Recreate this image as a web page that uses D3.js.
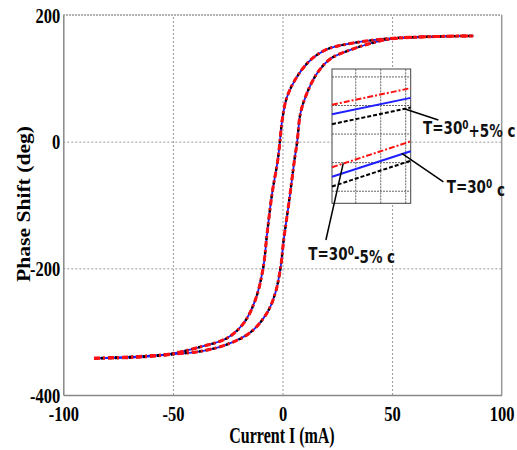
<!DOCTYPE html>
<html>
<head>
<meta charset="utf-8">
<script src="https://cdn.jsdelivr.net/npm/d3@7/dist/d3.min.js"></script>
<style>
  body { margin: 0; background: #fff; }
</style>
</head>
<body>
<div class="chart"></div>
<script>
// Data (mA, deg)
// left branch of the loop (decreasing current)
var leftX = [-86, -70, -60, -51, -37.4, -25.2, -17.6, -12.3, -8.8, -7, -4.7, -2.1, -1.2, -0.1, 2.1, 6.7, 12.8, 20.4, 31, 49, 70, 87];
var leftY = [-342, -340, -338, -335, -324, -310, -286, -249, -199, -144, -81, -28, 0, 35, 71, 103, 129, 146, 155, 163, 166, 167];
// right branch of the loop (increasing current)
var rightX = [-86, -70, -60, -51, -37.4, -25.2, -14.6, -7, -3.2, -0.9, 0.6, 2.9, 5.5, 6.7, 8.2, 11.2, 15.8, 21.9, 31, 40, 49, 70, 87];
var rightY = [-342, -341, -339, -336, -331, -320, -301, -270, -238, -199, -154, -97, -28, 0, 45, 77, 108, 131, 145, 155, 162, 166, 167];

var xTicks = [-100, -50, 0, 50, 100];
var yTicks = [-400, -200, 0, 200];
var xGrid = [-50, 0, 50];
var yGrid = [-200, 0];

// inset (zoomed detail), arbitrary local units
var insetX = [-0.93, 2.22];
var insetUpRed = [3.01, 3.59];
var insetUpBlue = [2.68, 3.25];
var insetUpBlack = [2.33, 2.91];
var insetLowRed = [0.82, 1.73];
var insetLowBlue = [0.49, 1.38];
var insetLowBlack = [0.15, 1.05];
var insetXTicks = [0, 1, 2];
var insetYTicks = [0, 1, 2, 3, 4];

// annotation labels, [x, y] in main chart units
var labels = ["T=30", "T=30", "T=30"];
var labelTails = ["+5% c", " c", "-5% c"];
var labelAt = [[64.1, 12.2], [74.9, -81.2], [11.8, -186.8]];
var pointerFrom = [[55.9, 51.6], [54.4, -18.5], [27.7, -34.2]];
var pointerTo = [[71.1, 34.3], [73.4, -63.3], [19.8, -155.3]];

var svgWidth = 517;
var svgHeight = 450;

var svg = d3.select(".chart")
  .append("svg")
  .attr("width", svgWidth)
  .attr("height", svgHeight);

var x = d3.scaleLinear().domain([-100, 100]).range([63.3, 501.7]);
var y = d3.scaleLinear().domain([-400, 200]).range([395, 15]);

var serif = "'Liberation Serif', 'Times New Roman', serif";
var narrow = "'Liberation Sans Narrow', 'Arial Narrow', 'DejaVu Sans Condensed', sans-serif";

// grid
svg.append("g")
  .attr("transform", "translate(0,395)")
  .call(d3.axisBottom(x).tickValues(xGrid).tickSize(-380).tickFormat(""))
  .call(g => g.select(".domain").remove())
  .selectAll("line")
  .attr("stroke", "#999").attr("stroke-dasharray", "2,2");

svg.append("g")
  .attr("transform", "translate(63.3,0)")
  .call(d3.axisLeft(y).tickValues(yGrid).tickSize(-438.4).tickFormat(""))
  .call(g => g.select(".domain").remove())
  .selectAll("line")
  .attr("stroke", "#999").attr("stroke-dasharray", "2,2");

// frame: top dotted, right solid gray
svg.append("line")
  .attr("x1", x(-100)).attr("x2", x(100)).attr("y1", y(200)).attr("y2", y(200))
  .attr("stroke", "#333").attr("stroke-dasharray", "1.5,1.5");
svg.append("line")
  .attr("x1", x(100)).attr("x2", x(100)).attr("y1", y(200)).attr("y2", y(-400))
  .attr("stroke", "#999").attr("stroke-width", 1.5);

// axes (plain hyphen minus like the original)
var bottomAxis = svg.append("g")
  .attr("transform", "translate(0,395)")
  .call(d3.axisBottom(x).tickValues(xTicks).tickSize(0).tickPadding(7.5).tickFormat(d => String(d)));
var leftAxis = svg.append("g")
  .attr("transform", "translate(63.3,0)")
  .call(d3.axisLeft(y).tickValues(yTicks).tickSize(0).tickPadding(3).tickFormat(d => String(d)));

[bottomAxis, leftAxis].forEach(function(ax) {
  ax.select(".domain").attr("stroke", "#888").attr("stroke-width", 1.5);
  ax.selectAll("text")
    .attr("fill", "#000")
    .attr("font-family", serif)
    .attr("font-weight", "bold")
    .attr("font-size", "16.5px")
    .attr("transform", "scale(1,1.33)");
});

// curves
var line = d3.line().x(d => x(d[0])).y(d => y(d[1])).curve(d3.curveCatmullRom.alpha(0.5));
var branches = [d3.zip(leftX, leftY), d3.zip(rightX, rightY)];

var styles = [
  { color: "#1f1fff", width: 1.8, dash: null },
  { color: "#000", width: 2.4, dash: "4,3" },
  { color: "#ff1010", width: 3, dash: "6,3,2,3" }
];

styles.forEach(function(s) {
  branches.forEach(function(b) {
    svg.append("path")
      .datum(b)
      .attr("d", line)
      .attr("fill", "none")
      .attr("stroke", s.color)
      .attr("stroke-width", s.width)
      .attr("stroke-dasharray", s.dash);
  });
});

// inset
var ix = d3.scaleLinear().domain(insetX).range([332, 410.7]);
var iy = d3.scaleLinear().domain([-0.44, 4.26]).range([203.3, 69]);

var inset = svg.append("g");
inset.append("rect")
  .attr("x", 332).attr("y", 69).attr("width", 78.7).attr("height", 134.3)
  .attr("fill", "#fff");

inset.append("g")
  .attr("transform", "translate(0,203.3)")
  .call(d3.axisBottom(ix).tickValues(insetXTicks).tickSize(-134.3).tickFormat(""))
  .call(g => g.select(".domain").remove())
  .selectAll("line").attr("stroke", "#666").attr("stroke-dasharray", "2,1");
inset.append("g")
  .attr("transform", "translate(332,0)")
  .call(d3.axisLeft(iy).tickValues(insetYTicks).tickSize(-78.7).tickFormat(""))
  .call(g => g.select(".domain").remove())
  .selectAll("line").attr("stroke", "#666").attr("stroke-dasharray", "2,1");

inset.append("rect")
  .attr("x", 332).attr("y", 69).attr("width", 78.7).attr("height", 134.3)
  .attr("fill", "none").attr("stroke", "#444").attr("stroke-width", 1);

var insetLine = d3.line().x(d => ix(d[0])).y(d => iy(d[1]));
var insetSeries = [
  [insetUpRed, "#ff1010", "6,2,2,2"], [insetUpBlue, "#1f1fff", null], [insetUpBlack, "#000", "4,2"],
  [insetLowRed, "#ff1010", "6,2,2,2"], [insetLowBlue, "#1f1fff", null], [insetLowBlack, "#000", "4,2"]
];
insetSeries.forEach(function(p) {
  inset.append("path")
    .datum(d3.zip(insetX, p[0]))
    .attr("d", insetLine)
    .attr("fill", "none")
    .attr("stroke", p[1])
    .attr("stroke-width", 2)
    .attr("stroke-dasharray", p[2]);
});

// annotations
labels.forEach(function(t, i) {
  svg.append("line")
    .attr("x1", x(pointerFrom[i][0])).attr("y1", y(pointerFrom[i][1]))
    .attr("x2", x(pointerTo[i][0])).attr("y2", y(pointerTo[i][1]))
    .attr("stroke", "#000").attr("stroke-width", 1.5);

  var txt = svg.append("text")
    .attr("transform", `translate(${x(labelAt[i][0])},${y(labelAt[i][1])}) scale(1,1.15)`)
    .attr("font-family", narrow)
    .attr("font-weight", "bold")
    .attr("font-size", "15px")
    .attr("fill", "#111");
  txt.append("tspan").text(t);
  txt.append("tspan").attr("dy", "-0.45em").attr("font-size", "10px").text("0");
  txt.append("tspan").attr("dy", "0.45em").text(labelTails[i]);
});

// axis titles
svg.append("text")
  .attr("transform", "translate(282,443) scale(1,1.38)")
  .attr("text-anchor", "middle")
  .attr("font-family", serif)
  .attr("font-weight", "bold")
  .attr("font-size", "16px")
  .text("Current I (mA)");

svg.append("text")
  .attr("transform", "translate(30,204) rotate(-90) scale(1.2,1)")
  .attr("text-anchor", "middle")
  .attr("font-family", serif)
  .attr("font-weight", "bold")
  .attr("font-size", "18px")
  .text("Phase Shift (deg)");
</script>
</body>
</html>
